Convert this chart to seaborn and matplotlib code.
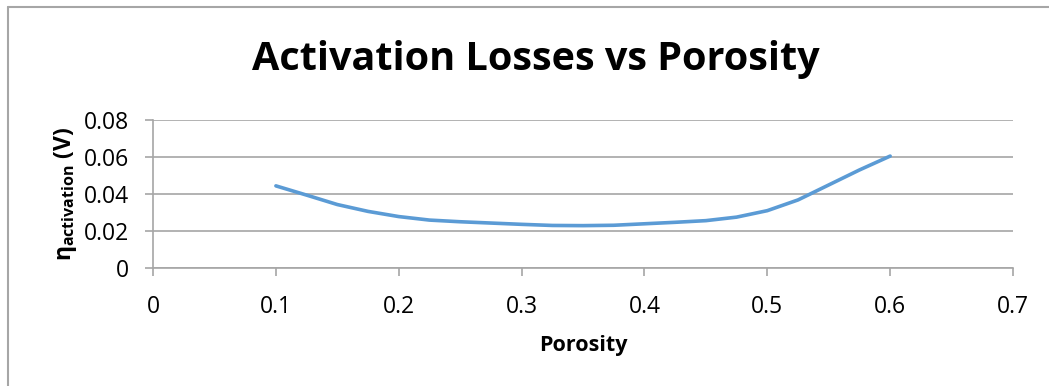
import numpy as np
import pandas as pd
import matplotlib
matplotlib.use("Agg")
import matplotlib.pyplot as plt
from matplotlib.lines import Line2D
import seaborn as sns

# values
porosity = [0.100, 0.125, 0.150, 0.175, 0.200, 0.225, 0.250, 0.275, 0.300, 0.325, 0.350,
            0.375, 0.400, 0.425, 0.450, 0.475, 0.500, 0.525, 0.550, 0.575, 0.600]
eta_act = [0.0444, 0.0394, 0.0343, 0.0306, 0.0278, 0.0259, 0.0250, 0.0243, 0.0236, 0.0230, 0.0229,
           0.0231, 0.0239, 0.0247, 0.0256, 0.0275, 0.0310, 0.0368, 0.0449, 0.0530, 0.0605]
xticks = [0, 0.1, 0.2, 0.3, 0.4, 0.5, 0.6, 0.7]
yticks = [0, 0.02, 0.04, 0.06, 0.08]

sns.set_theme(style="white")
plt.rcParams["font.family"] = ["Open Sans", "DejaVu Sans"]
plt.rcParams["mathtext.fontset"] = "custom"
plt.rcParams["mathtext.rm"] = "Open Sans:bold"
plt.rcParams["mathtext.it"] = "Open Sans:bold"
plt.rcParams["mathtext.bf"] = "Open Sans:bold"
plt.rcParams["text.color"] = "black"
plt.rcParams["axes.labelcolor"] = "black"

df = pd.DataFrame({"Porosity": porosity, "eta": eta_act})

fig = plt.figure(figsize=(10.49, 3.86), dpi=100)
ax = fig.add_axes([0.1459, 0.3057, 0.8198, 0.3834])

grey = "#a6a6a6"
sns.lineplot(data=df, x="Porosity", y="eta", ax=ax, color="#5b9bd5", lw=2.6,
             solid_capstyle="round", solid_joinstyle="round")

ax.set_xlim(0, 0.7)
ax.set_ylim(0, 0.08)
ax.set_xticks(xticks)
ax.set_xticklabels([f"{t:g}" for t in xticks])
ax.set_yticks(yticks)
ax.set_yticklabels([f"{t:g}" for t in yticks])
ax.yaxis.grid(True, color=grey, lw=1.2)
ax.set_axisbelow(True)
for s in ["top", "right"]:
    ax.spines[s].set_visible(False)
for s in ["left", "bottom"]:
    ax.spines[s].set_color(grey)
    ax.spines[s].set_linewidth(1.2)
ax.tick_params(axis="both", which="major", direction="out", length=6, width=1.2,
               color=grey, labelcolor="black", labelsize=16.5, left=True, bottom=True)
ax.tick_params(axis="x", pad=13.5)
ax.tick_params(axis="y", pad=11)

ax.set_xlabel("Porosity", fontsize=15.5, fontweight="bold", labelpad=11.5)
ax.set_ylabel(r"$\eta_{activation}$ (V)", fontsize=16.5, fontweight="bold", labelpad=4)
fig.suptitle("Activation Losses vs Porosity", fontsize=28.5, fontweight="bold",
             x=0.511, y=0.897)

# chart frame like the spreadsheet export
fig.add_artist(Line2D([0.0076, 0.0076], [0, 0.981], color=grey, lw=1.5, transform=fig.transFigure))
fig.add_artist(Line2D([0.0076, 1.0], [0.981, 0.981], color=grey, lw=1.5, transform=fig.transFigure))

plt.savefig("out.png", dpi=100)
plt.close()
